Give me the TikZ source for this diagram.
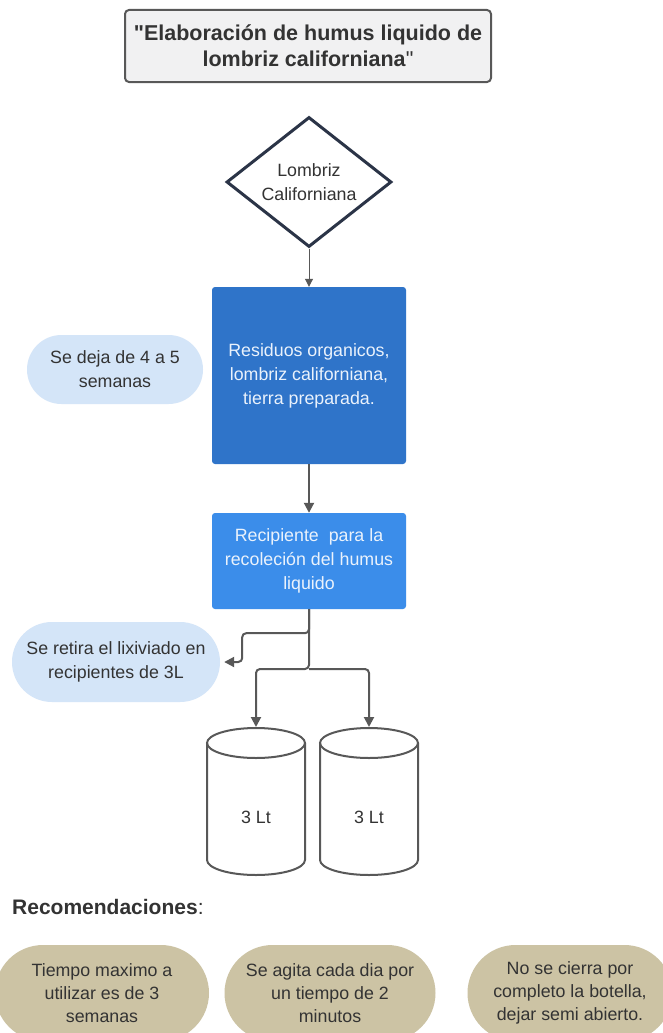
\documentclass[tikz,border=0pt]{standalone}
\usepackage{fontspec}
\setmainfont{Liberation Sans}
\usetikzlibrary{arrows.meta,shapes.geometric,shapes.misc,positioning}

\definecolor{txtgray}{HTML}{333333}
\definecolor{linegray}{HTML}{585858}
\definecolor{titlefill}{HTML}{F1F1F2}
\definecolor{navy}{HTML}{2B3447}
\definecolor{darkblue}{HTML}{2F74C9}
\definecolor{midblue}{HTML}{3B8DEA}
\definecolor{boxtext}{HTML}{EAF2FC}
\definecolor{paleblue}{HTML}{D4E5F8}
\definecolor{tan}{HTML}{CCC3A4}

\begin{document}
\begin{tikzpicture}[x=1pt,y=1pt,
  every node/.style={font=\fontsize{17.8}{24}\selectfont,text=txtgray,align=center,inner sep=0pt},
  titlebox/.style={rectangle,draw=linegray,line width=2pt,fill=titlefill,rounded corners=4pt,
    minimum width=366pt,minimum height=72pt,font=\fontsize{21.5}{26}\selectfont},
  bluebox/.style={rectangle,rounded corners=3pt,minimum width=194pt,text=boxtext},
  note/.style={rounded rectangle,fill=paleblue},
  tipbox/.style={rounded rectangle,fill=tan,minimum height=96pt,font=\fontsize{17.8}{23}\selectfont},
  link/.style={draw=linegray,line width=2pt,-{Triangle[length=10pt,width=10pt]}},
  cyl/.style={draw=linegray,line width=2pt}
]
\useasboundingbox[fill=white] (0,0) rectangle (662,-1033);

% encabezado
\node[titlebox] (titulo) at (308,-46)
  {\textbf{\textquotedbl Elaboración de humus liquido de}\\\textbf{lombriz californiana}\textquotedbl};

\node[diamond,draw=navy,line width=3pt,fill=white,aspect=1.27,
  minimum width=165pt,minimum height=130pt] (lombriz) at (309,-182) {Lombriz\\Californiana};

\node[bluebox,fill=darkblue,minimum height=177pt] (residuos) at (309,-375.5)
  {Residuos organicos,\\lombriz californiana,\\tierra preparada.};
\node[bluebox,fill=midblue,minimum height=96pt] (recipiente) at (309,-561)
  {Recipiente\ \ para la\\recoleción del humus\\liquido};

\node[note,minimum width=176pt,minimum height=69pt] (deja) at (115,-369.5)
  {Se deja de 4 a 5\\semanas};
\node[note,minimum width=208pt,minimum height=80pt] (retira) at (116,-662)
  {Se retira el lixiviado en\\recipientes de 3L};

% botellas
\foreach \cx/\nm in {256/uno,369/dos}{
  \draw[cyl] (\cx,-743) ellipse[x radius=49,y radius=15];
  \draw[cyl] (\cx-49,-743) -- (\cx-49,-860) arc[start angle=180,end angle=360,x radius=49,y radius=15] -- (\cx+49,-743);
  \node (bot\nm) at (\cx,-817) {3 Lt};
  \coordinate (top\nm) at (\cx,-727);
}
\coordinate (split) at (309,-669);

\draw[draw=linegray,line width=1pt,-{Triangle[length=8pt,width=8pt]}] (lombriz.south) -- (residuos.north);
\draw[link] (residuos.south) -- (recipiente.north);
\draw[link,rounded corners=4pt,shorten >=4pt] (recipiente.south) -- ++(0,-24) -| ([xshift=22pt]retira.east) -- (retira.east);
\draw[link,rounded corners=4pt] (recipiente.south) -- (split) -| (topuno);
\draw[link,rounded corners=4pt] (split) -| (topdos);

% recomendaciones
\node[anchor=west,font=\fontsize{21}{26}\selectfont] (recom) at (12,-907) {\textbf{Recomendaciones}:};
\node[tipbox,minimum width=214pt] (tiempo) at (102,-993)
  {Tiempo maximo a\\utilizar es de 3\\semanas};
\node[tipbox,minimum width=211pt] (agita) at (330,-993)
  {Se agita cada dia por\\un tiempo de 2\\minutos};
\node[tipbox,minimum width=205pt] (cierra) at (570,-993)
  {No se cierra por\\completo la botella,\\dejar semi abierto.};
\end{tikzpicture}
\end{document}
